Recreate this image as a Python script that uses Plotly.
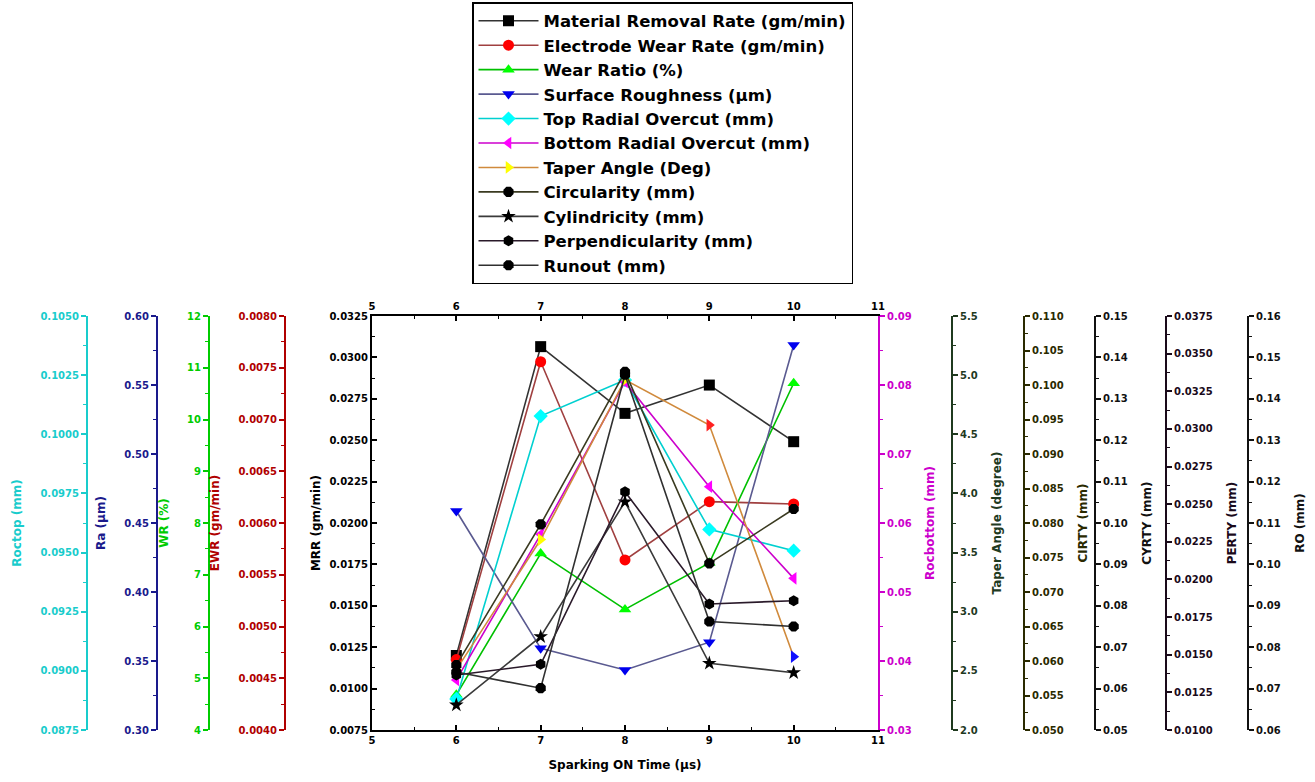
import plotly.graph_objects as go

# ---------------- data ----------------
x_time = [6, 7, 8, 9, 10]
mrr = [0.0120, 0.03065, 0.02662, 0.02833, 0.02491]
ewr = [0.00468, 0.007558, 0.005643, 0.006206, 0.006184]
wr = [4.68, 7.41, 6.33, 7.23, 10.70]
ra = [0.4587, 0.3592, 0.3435, 0.3636, 0.579]
roctop = [0.08881, 0.10077, 0.10229, 0.09598, 0.09508]
rocbottom = [0.03725, 0.05836, 0.08044, 0.06526, 0.05198]
taper = [2.51, 3.61, 4.96, 4.578, 2.62]
cirty = [0.0594, 0.0798, 0.1019, 0.07416, 0.08203]
cyrty = [0.05604, 0.07254, 0.1051, 0.06611, 0.06384]
perty = [0.01365, 0.01436, 0.02583, 0.01837, 0.01859]
runout = [0.0740, 0.0701, 0.1458, 0.0862, 0.0850]

legend_names = ["Material Removal Rate (gm/min)", "Electrode Wear Rate (gm/min)",
                "Wear Ratio (%)", "Surface Roughness (µm)", "Top Radial Overcut (mm)",
                "Bottom Radial Overcut (mm)", "Taper Angle (Deg)", "Circularity (mm)",
                "Cylindricity (mm)", "Perpendicularity (mm)", "Runout (mm)"]
axis_titles = ["MRR (gm/min)", "EWR (gm/min)", "WR (%)", "Ra (µm)", "Roctop (mm)",
               "Rocbottom (mm)", "Taper Angle (degree)", "CIRTY (mm)", "CYRTY (mm)",
               "PERTY (mm)", "RO (mm)"]
x_title = "Sparking ON Time (µs)"

W, H = 1315, 782
FONT = "DejaVu Sans"

def px(v):
    return v / W

def py(v):
    return 1 - v / H

xdom = [px(372), px(878)]
ydom = [py(730), py(316)]

# axis specs: (series, range, dtick, fmt, axis colour, line colour, marker colour, symbol, side, position)
specs = [
    (mrr, [0.0075, 0.0325], 0.0025, ".4f", "#000000", "#333333", "#000000", "square", "left", None),
    (ewr, [0.0040, 0.0080], 0.0005, ".4f", "#b00000", "#a04040", "#ff0000", "circle", "left", px(285)),
    (wr, [4, 12], 1, "d", "#00cc00", "#00c000", "#00ff00", "triangle-up", "left", px(209)),
    (ra, [0.30, 0.60], 0.05, ".2f", "#1a1a8c", "#5a5a90", "#0000ee", "triangle-down", "left", px(157)),
    (roctop, [0.0875, 0.1050], 0.0025, ".4f", "#19cccc", "#00d0d0", "#00ffff", "diamond", "left", px(87)),
    (rocbottom, [0.03, 0.09], 0.01, ".2f", "#cc00cc", "#cc00cc", "#ff00ff", "triangle-left", "right", None),
    (taper, [2.0, 5.5], 0.5, ".1f", "#1f3a1f", "#d08a3c", ["#ffff00", "#ffff00", "#ffff00", "#ff2020", "#1010ff"], "triangle-right", "right", px(952)),
    (cirty, [0.050, 0.110], 0.005, ".3f", "#2a2a00", "#3a3a20", "#000000", "octagon", "right", px(1024)),
    (cyrty, [0.05, 0.15], 0.01, ".2f", "#111111", "#3a3a3a", "#000000", "star", "right", px(1095)),
    (perty, [0.0100, 0.0375], 0.0025, ".4f", "#1a0a1a", "#2a1a2a", "#000000", "hexagon", "right", px(1166)),
    (runout, [0.06, 0.16], 0.01, ".2f", "#111111", "#303030", "#000000", "octagon", "right", px(1248)),
]

# drawing order (taper drawn first so the others sit on top of it)
draw_order = [6, 0, 1, 2, 3, 4, 5, 7, 8, 9, 10]

fig = go.Figure()
layout = {}

for i in draw_order:
    vals, rng, dt, fmt, acol, lcol, mcol, sym, side, pos = specs[i]
    n = i + 1
    yref = "y" if n == 1 else f"y{n}"
    fig.add_trace(go.Scatter(
        x=x_time, y=vals, name=legend_names[i], yaxis=yref, xaxis="x",
        mode="lines+markers", legendgroup=legend_names[i], legendrank=100 + i,
        line=dict(color=lcol, width=1.6),
        marker=dict(symbol=sym, size=11, color=mcol, line=dict(width=0)),
    ))

for i, (vals, rng, dt, fmt, acol, lcol, mcol, sym, side, pos) in enumerate(specs):
    n = i + 1
    ykey = "yaxis" if n == 1 else f"yaxis{n}"
    pad = (rng[1] - rng[0]) * 1e-6
    ax = dict(
        range=[rng[0] - pad, rng[1] + pad], domain=ydom, tick0=rng[0], dtick=dt,
        tickformat=fmt, showgrid=False, zeroline=False, showline=True,
        linecolor=acol, linewidth=2, color=acol, automargin=False,
        tickfont=dict(family=FONT, size=10, color=acol, weight="bold"),
        title=dict(text=axis_titles[i], font=dict(family=FONT, size=12, color=acol, weight="bold")),
        ticks="outside", ticklen=5, tickwidth=1.5, tickcolor=acol,
        minor=dict(dtick=dt / 2, tick0=rng[0], ticks="outside", ticklen=3, tickwidth=1.2, tickcolor=acol),
        side=side,
    )
    if n == 1:
        ax.update(anchor="x", ticks="inside",
                  minor=dict(dtick=dt / 2, tick0=rng[0], ticks="inside", ticklen=3, tickwidth=1.2, tickcolor=acol),
                  title=dict(text=axis_titles[i], standoff=6,
                             font=dict(family=FONT, size=12, color=acol, weight="bold")))
    elif pos is None:
        ax.update(anchor="x", overlaying="y")
    else:
        ax.update(anchor="free", position=pos, overlaying="y")
    layout[ykey] = ax

# placeholder trace for the top x axis
fig.add_trace(go.Scatter(x=x_time, y=[None] * len(x_time), xaxis="x2", yaxis="y",
                         showlegend=False, hoverinfo="skip", mode="lines"))

xcommon = dict(range=[5, 11], domain=xdom, dtick=1, tick0=5, showgrid=False, zeroline=False,
               showline=True, linecolor="#000000", linewidth=2, ticks="inside", ticklen=5,
               tickwidth=1.5, tickcolor="#000000", automargin=False,
               tickfont=dict(family=FONT, size=10, color="#000000", weight="bold"),
               minor=dict(dtick=0.5, tick0=5, ticks="inside", ticklen=3, tickwidth=1.2, tickcolor="#000000"))
layout["xaxis"] = dict(xcommon, anchor="y",
                       title=dict(text=x_title, standoff=16,
                                  font=dict(family=FONT, size=12, color="#000000", weight="bold")))
layout["xaxis2"] = dict(xcommon, anchor="y", overlaying="x", side="top")

fig.update_layout(
    **layout,
    width=W, height=H,
    margin=dict(l=0, r=0, t=0, b=0, pad=0, autoexpand=False),
    paper_bgcolor="white", plot_bgcolor="white",
    font=dict(family=FONT, color="#000000"),
    legend=dict(x=px(472), y=py(2), xanchor="left", yanchor="top",
                bordercolor="#000000", borderwidth=1.5, bgcolor="white",
                font=dict(family=FONT, size=16.5, color="#000000", weight="bold"),
                traceorder="grouped", tracegroupgap=0, itemwidth=60),
    showlegend=True,
)

fig.write_html("out.html", config={"displayModeBar": False},
               post_script="document.body.style.margin='0';document.body.style.overflow='hidden';")
